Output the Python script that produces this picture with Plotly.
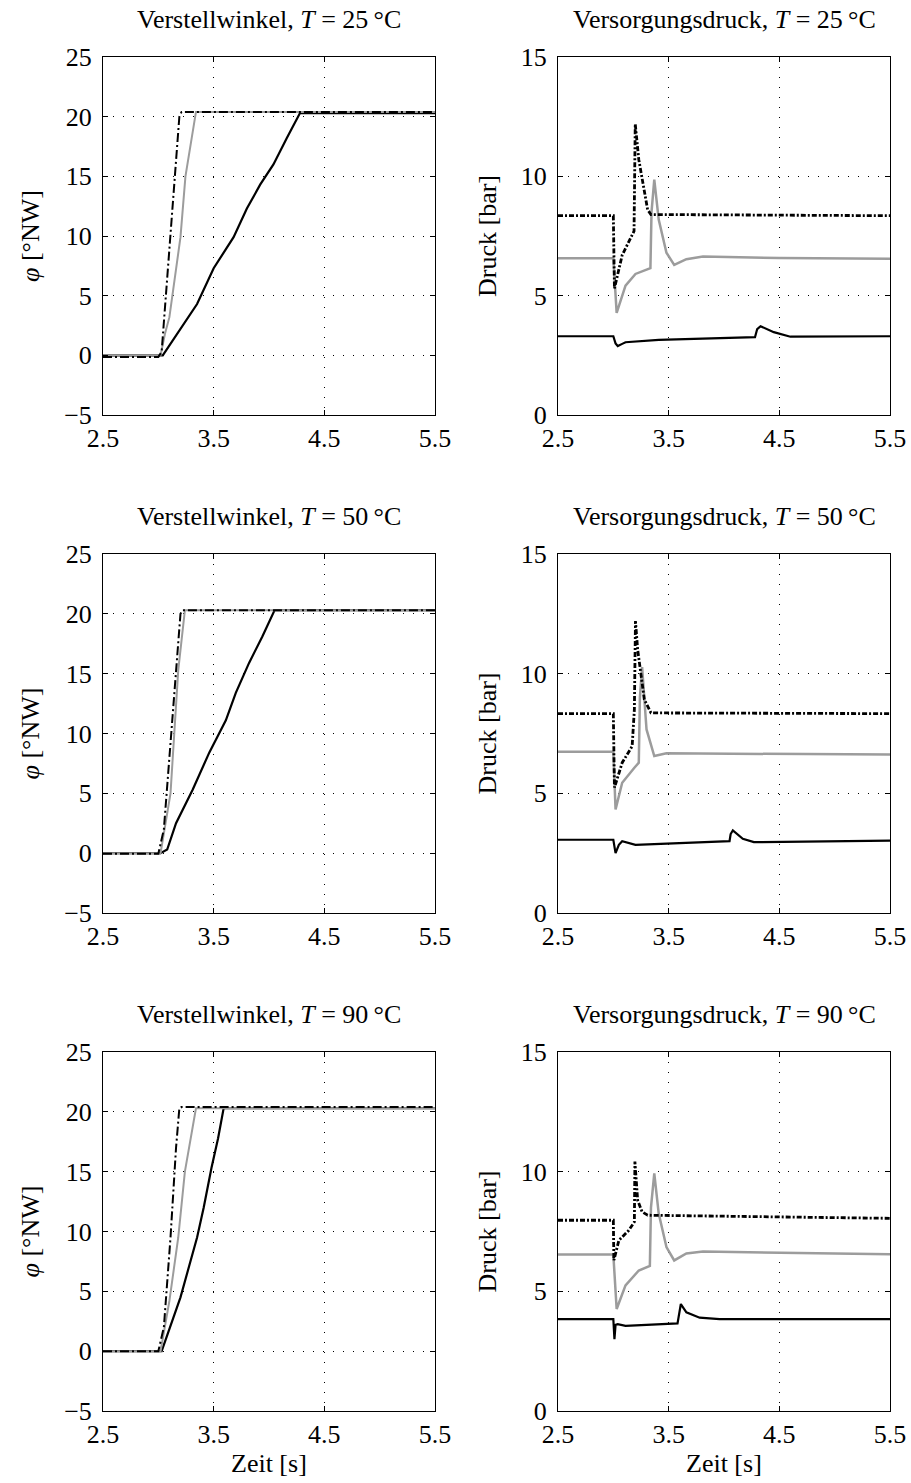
import plotly.graph_objects as go

# ---------------- data: Verstellwinkel (left column) ----------------
# black solid ("ist"), grey ("sim"), black dash-dot ("soll")
t_w25_ist = [2.5, 3.04, 3.35, 3.50, 3.68, 3.80, 3.92, 4.04, 4.16, 4.28, 5.5]
w25_ist   = [0.0, 0.0, 4.3, 7.3, 9.9, 12.3, 14.3, 16.0, 18.2, 20.3, 20.3]
t_w25_sim = [2.5, 3.02, 3.06, 3.10, 3.20, 3.245, 3.34, 5.5]
w25_sim   = [0.0, 0.0, 1.8, 3.2, 9.9, 15.0, 20.4, 20.4]
t_w25_soll = [2.5, 3.0, 3.03, 3.19, 3.21, 5.5]
w25_soll   = [-0.15, -0.15, 0.3, 20.0, 20.4, 20.4]

t_w50_ist = [2.5, 3.02, 3.08, 3.16, 3.31, 3.46, 3.61, 3.70, 3.82, 3.94, 4.05, 5.5]
w50_ist   = [0.0, 0.0, 0.3, 2.5, 5.3, 8.4, 11.1, 13.4, 15.9, 18.1, 20.3, 20.3]
t_w50_sim = [2.5, 3.02, 3.11, 3.18, 3.24, 5.5]
w50_sim   = [0.0, 0.0, 5.0, 15.3, 20.3, 20.3]
t_w50_soll = [2.5, 3.0, 3.05, 3.12, 3.20, 3.22, 5.5]
w50_soll   = [-0.05, -0.05, 2.0, 10.3, 20.0, 20.3, 20.3]

t_w90_ist = [2.5, 3.03, 3.20, 3.35, 3.41, 3.48, 3.54, 3.59, 5.5]
w90_ist   = [0.0, 0.0, 4.5, 9.5, 12.0, 15.3, 17.8, 20.3, 20.3]
t_w90_sim = [2.5, 3.02, 3.10, 3.18, 3.24, 3.34, 5.5]
w90_sim   = [0.0, 0.0, 4.2, 9.5, 15.0, 20.3, 20.3]
t_w90_soll = [2.5, 3.0, 3.05, 3.11, 3.16, 3.19, 3.21, 5.5]
w90_soll   = [0.0, 0.0, 2.0, 9.5, 17.0, 20.3, 20.4, 20.4]

# ---------------- data: Versorgungsdruck (right column) ----------------
t_p25_a = [2.5, 3.0, 3.01, 3.08, 3.187, 3.193, 3.198, 3.23, 3.31, 3.34, 5.5]
p25_a   = [8.35, 8.35, 5.3, 6.7, 7.7, 9.7, 12.2, 10.7, 8.6, 8.4, 8.35]
t_p25_b = [2.5, 3.0, 3.03, 3.07, 3.11, 3.20, 3.335, 3.345, 3.37, 3.41, 3.48, 3.55, 3.66, 3.81, 4.5, 5.5]
p25_b   = [6.57, 6.57, 4.28, 4.9, 5.42, 5.91, 6.15, 8.5, 9.86, 8.19, 6.8, 6.29, 6.53, 6.64, 6.58, 6.55]
t_p25_c = [2.5, 3.0, 3.02, 3.04, 3.08, 3.11, 3.41, 4.28, 4.30, 4.33, 4.45, 4.60, 5.5]
p25_c   = [3.3, 3.3, 3.0, 2.89, 2.98, 3.05, 3.15, 3.26, 3.6, 3.72, 3.47, 3.28, 3.3]

t_p50_a = [2.5, 3.0, 3.01, 3.08, 3.17, 3.19, 3.20, 3.22, 3.28, 3.34, 5.5]
p50_a   = [8.33, 8.33, 5.24, 6.28, 6.97, 8.5, 12.2, 11.0, 8.92, 8.36, 8.33]
t_p50_b = [2.5, 3.0, 3.02, 3.08, 3.19, 3.23, 3.24, 3.26, 3.30, 3.37, 3.48, 5.5]
p50_b   = [6.74, 6.74, 4.33, 5.44, 6.07, 6.28, 9.0, 10.28, 7.67, 6.56, 6.67, 6.62]
t_p50_c = [2.5, 3.0, 3.02, 3.05, 3.08, 3.20, 4.05, 4.06, 4.08, 4.17, 4.27, 5.5]
p50_c   = [3.06, 3.06, 2.5, 2.85, 3.0, 2.85, 3.0, 3.3, 3.45, 3.1, 2.96, 3.02]

t_p90_a = [2.5, 3.0, 3.005, 3.05, 3.14, 3.19, 3.195, 3.22, 3.26, 3.31, 5.5]
p90_a   = [7.97, 7.97, 6.3, 7.13, 7.55, 7.9, 10.42, 8.8, 8.32, 8.18, 8.05]
t_p90_b = [2.5, 3.0, 3.03, 3.11, 3.23, 3.33, 3.34, 3.37, 3.41, 3.48, 3.55, 3.66, 3.81, 5.5]
p90_b   = [6.54, 6.54, 4.26, 5.25, 5.87, 6.06, 8.5, 9.93, 8.25, 6.85, 6.29, 6.58, 6.66, 6.55]
t_p90_c = [2.5, 3.0, 3.01, 3.02, 3.04, 3.11, 3.58, 3.60, 3.61, 3.66, 3.78, 3.96, 5.5]
p90_c   = [3.84, 3.84, 3.0, 3.6, 3.63, 3.56, 3.66, 4.3, 4.47, 4.12, 3.9, 3.84, 3.84]

temps = ["25", "50", "90"]
x_ticks = [2.5, 3.5, 4.5, 5.5]
x_ticktext = ["2.5", "3.5", "4.5", "5.5"]
w_ticks = [-5, 0, 5, 10, 15, 20, 25]
w_ticktext = ["\u22125", "0", "5", "10", "15", "20", "25"]
p_ticks = [0, 5, 10, 15]
p_ticktext = ["0", "5", "10", "15"]

W, H = 911, 1483
FONT = "Liberation Serif"
FS = 26
BLACK = "#000000"
GREY = "#9c9c9c"
DASHDOT = "9px,3px,2px,3px"

col_px = [(103, 435), (558, 890)]
row_px = [(57, 415), (554, 913), (1052, 1411)]

left_data = [
    (t_w25_ist, w25_ist, t_w25_sim, w25_sim, t_w25_soll, w25_soll),
    (t_w50_ist, w50_ist, t_w50_sim, w50_sim, t_w50_soll, w50_soll),
    (t_w90_ist, w90_ist, t_w90_sim, w90_sim, t_w90_soll, w90_soll),
]
right_data = [
    (t_p25_a, p25_a, t_p25_b, p25_b, t_p25_c, p25_c),
    (t_p50_a, p50_a, t_p50_b, p50_b, t_p50_c, p50_c),
    (t_p90_a, p90_a, t_p90_b, p90_b, t_p90_c, p90_c),
]

fig = go.Figure()
layout = dict(width=W, height=H,
              margin=dict(l=0, r=0, t=0, b=0, pad=0, autoexpand=False),
              paper_bgcolor="white", plot_bgcolor="white", showlegend=False,
              font=dict(family=FONT, size=FS, color=BLACK))
annotations = []

def axis_common():
    return dict(showline=True, linecolor=BLACK, linewidth=1, mirror="ticks",
                ticks="inside", ticklen=5, tickcolor=BLACK, tickwidth=1,
                showgrid=True, gridcolor=BLACK, gridwidth=1, griddash="1px,9px",
                zeroline=False, automargin=False,
                tickfont=dict(family=FONT, size=FS, color=BLACK))

idx = 0
for r in range(3):
    for c in range(2):
        idx += 1
        xa = "x" if idx == 1 else f"x{idx}"
        ya = "y" if idx == 1 else f"y{idx}"
        xkey = "xaxis" if idx == 1 else f"xaxis{idx}"
        ykey = "yaxis" if idx == 1 else f"yaxis{idx}"
        x0, x1 = col_px[c]
        y0, y1 = row_px[r]
        xd = [x0 / W, x1 / W]
        yd = [1 - y1 / H, 1 - y0 / H]
        xax = axis_common()
        xax.update(domain=xd, anchor=ya, range=[2.5, 5.5], tickvals=x_ticks,
                   ticktext=x_ticktext, ticklabelstandoff=0)
        yax = axis_common()
        if c == 0:
            yax.update(domain=yd, anchor=xa, range=[-5, 25], tickvals=w_ticks,
                       ticktext=w_ticktext, ticklabelstandoff=5)
            ti, vi, ts, vs, tso, vso = left_data[r]
            fig.add_trace(go.Scatter(x=ti, y=vi, mode="lines", xaxis=xa, yaxis=ya,
                                     line=dict(color=BLACK, width=2.2)))
            fig.add_trace(go.Scatter(x=ts, y=vs, mode="lines", xaxis=xa, yaxis=ya,
                                     line=dict(color=GREY, width=2)))
            fig.add_trace(go.Scatter(x=tso, y=vso, mode="lines", xaxis=xa, yaxis=ya,
                                     line=dict(color=BLACK, width=2, dash=DASHDOT)))
            title = f"Verstellwinkel, <i>T</i> = {temps[r]}\u2009\u00b0C"
            ylab = "<i>\u03c6</i> [\u00b0NW]"
        else:
            yax.update(domain=yd, anchor=xa, range=[0, 15], tickvals=p_ticks,
                       ticktext=p_ticktext, ticklabelstandoff=5)
            ta, va, tb, vb, tc, vc = right_data[r]
            fig.add_trace(go.Scatter(x=tc, y=vc, mode="lines", xaxis=xa, yaxis=ya,
                                     line=dict(color=BLACK, width=2.2)))
            fig.add_trace(go.Scatter(x=tb, y=vb, mode="lines", xaxis=xa, yaxis=ya,
                                     line=dict(color=GREY, width=2.5)))
            fig.add_trace(go.Scatter(x=ta, y=va, mode="lines", xaxis=xa, yaxis=ya,
                                     line=dict(color=BLACK, width=2.8, dash="5px,2px,2px,2px")))
            title = f"Versorgungsdruck, <i>T</i> = {temps[r]}\u2009\u00b0C"
            ylab = "Druck [bar]"
        layout[xkey] = xax
        layout[ykey] = yax
        # subplot title
        annotations.append(dict(text=title, xref="paper", yref="paper",
                                x=(xd[0] + xd[1]) / 2, y=yd[1], yanchor="middle",
                                xanchor="center", yshift=38, showarrow=False,
                                font=dict(family=FONT, size=FS, color=BLACK)))
        # y label
        lab_x = 30 if c == 0 else 487
        annotations.append(dict(text=ylab, xref="paper", yref="paper",
                                x=lab_x / W, y=(yd[0] + yd[1]) / 2, textangle=-90,
                                xanchor="center", yanchor="middle", showarrow=False,
                                font=dict(family=FONT, size=FS, color=BLACK)))
        if r == 2:
            annotations.append(dict(text="Zeit [s]", xref="paper", yref="paper",
                                    x=(xd[0] + xd[1]) / 2, y=yd[0], yanchor="middle",
                                    xanchor="center", yshift=-52, showarrow=False,
                                    font=dict(family=FONT, size=FS, color=BLACK)))

layout["annotations"] = annotations
fig.update_layout(**layout)
fig.write_html("out.html")
